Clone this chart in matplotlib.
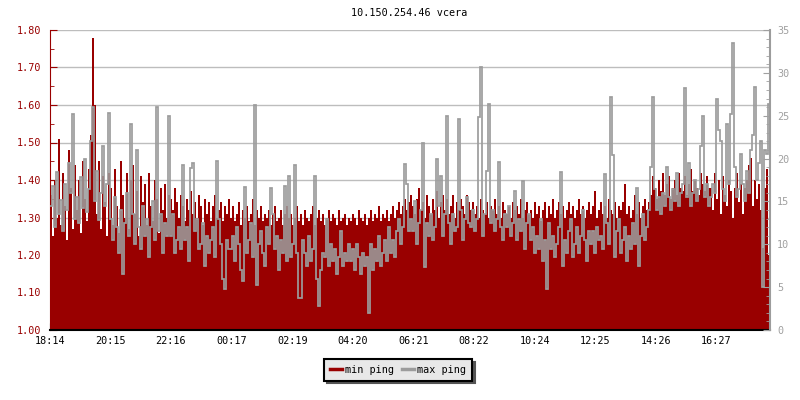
import numpy as np
import matplotlib
matplotlib.use("Agg")
import matplotlib.pyplot as plt
from matplotlib.ticker import MultipleLocator, FormatStrFormatter

# sample interval (minutes) and x ticks
STEP_MIN = 4
tick_minutes = [0, 121, 242, 363, 485, 606, 727, 848, 970, 1091, 1212, 1333]
tick_labels = ["18:14", "20:15", "22:16", "00:17", "02:19", "04:20",
               "06:21", "08:22", "10:24", "12:25", "14:26", "16:27"]

# min ping (ms, left axis) - one row per ~2 hours
min_ping = [
    1.36, 1.25, 1.40, 1.30, 1.51, 1.28, 1.42, 1.33, 1.24, 1.48, 1.38, 1.27, 1.44, 1.32, 1.40,
    1.26, 1.45, 1.35, 1.29, 1.43, 1.52, 1.78, 1.60, 1.31, 1.45, 1.27, 1.41, 1.34, 1.25, 1.42,
    1.38, 1.28, 1.43, 1.33, 1.26, 1.45, 1.36, 1.30, 1.42, 1.27, 1.40, 1.44, 1.31, 1.37, 1.25,
    1.41, 1.34, 1.39, 1.28, 1.42, 1.33, 1.29, 1.40, 1.35, 1.26, 1.38, 1.32, 1.39, 1.30, 1.36,
    1.35, 1.32, 1.38, 1.34, 1.30, 1.36, 1.33, 1.29, 1.35, 1.32, 1.37, 1.31, 1.34, 1.30, 1.36,
    1.33, 1.28, 1.35, 1.31, 1.34, 1.29, 1.33, 1.36, 1.30, 1.32, 1.34, 1.29, 1.33, 1.31, 1.35,
    1.30, 1.33, 1.29, 1.31, 1.34, 1.28, 1.32, 1.30, 1.33, 1.29, 1.31, 1.35, 1.28, 1.32, 1.30,
    1.33, 1.29, 1.31, 1.30, 1.32, 1.28, 1.31, 1.33, 1.29, 1.30, 1.32, 1.28, 1.31, 1.33, 1.30,
    1.31, 1.28, 1.30, 1.33, 1.29, 1.31, 1.28, 1.32, 1.30, 1.29, 1.31, 1.33, 1.28, 1.30, 1.32,
    1.29, 1.31, 1.28, 1.30, 1.32, 1.29, 1.31, 1.30, 1.28, 1.32, 1.29, 1.30, 1.31, 1.28, 1.30,
    1.29, 1.31, 1.30, 1.28, 1.32, 1.30, 1.29, 1.31, 1.28, 1.30, 1.32, 1.29, 1.31, 1.30, 1.33,
    1.29, 1.31, 1.30, 1.32, 1.29, 1.31, 1.33, 1.30, 1.32, 1.34, 1.31, 1.33, 1.35, 1.32, 1.34,
    1.36, 1.33, 1.31, 1.35, 1.38, 1.32, 1.34, 1.30, 1.36, 1.33, 1.31, 1.35, 1.32, 1.37, 1.30,
    1.34, 1.36, 1.32, 1.35, 1.31, 1.33, 1.36, 1.30, 1.34, 1.32, 1.35, 1.33, 1.31, 1.36, 1.34,
    1.32, 1.34, 1.31, 1.33, 1.30, 1.35, 1.32, 1.31, 1.34, 1.30, 1.33, 1.32, 1.35, 1.31, 1.33,
    1.30, 1.34, 1.32, 1.31, 1.33, 1.30, 1.34, 1.32, 1.33, 1.31, 1.35, 1.30, 1.32, 1.34, 1.31,
    1.32, 1.30, 1.34, 1.31, 1.33, 1.29, 1.32, 1.34, 1.30, 1.33, 1.31, 1.35, 1.30, 1.32, 1.34,
    1.31, 1.33, 1.30, 1.32, 1.34, 1.31, 1.33, 1.30, 1.32, 1.35, 1.31, 1.33, 1.30, 1.32, 1.34,
    1.31, 1.33, 1.37, 1.30, 1.32, 1.34, 1.31, 1.33, 1.30, 1.35, 1.32, 1.31, 1.34, 1.30, 1.33,
    1.32, 1.34, 1.39, 1.31, 1.33, 1.30, 1.32, 1.36, 1.31, 1.34, 1.30, 1.33, 1.35, 1.32, 1.34,
    1.36, 1.41, 1.38, 1.35, 1.40, 1.37, 1.42, 1.36, 1.39, 1.41, 1.35, 1.38, 1.40, 1.36, 1.42,
    1.38, 1.37, 1.41, 1.36, 1.39, 1.43, 1.37, 1.40, 1.38, 1.36, 1.42, 1.39, 1.37, 1.41, 1.38,
    1.38, 1.32, 1.42, 1.35, 1.40, 1.31, 1.41, 1.36, 1.33, 1.40, 1.37, 1.30, 1.38, 1.42, 1.34,
    1.39, 1.31, 1.38, 1.40, 1.44, 1.46, 1.33, 1.40, 1.35, 1.39, 1.32, 1.22, 1.38, 1.43, 1.20,
]

# max ping (ms, right axis)
max_ping = [
    14.5, 16.8, 12.0, 18.4, 13.5, 15.2, 11.5, 17.0, 14.0, 19.5, 16.0, 25.2, 13.0, 15.5, 12.5,
    17.8, 14.2, 20.0, 13.8, 16.5, 22.0, 26.0, 15.0, 18.5, 12.8, 16.0, 21.5, 14.5, 17.0, 25.3,
    13.0, 10.5, 15.5, 12.0, 9.0, 14.0, 6.5, 12.5, 16.0, 11.0, 24.0, 13.5, 10.0, 21.0, 12.0,
    9.5, 14.5, 11.0, 13.0, 8.5, 12.0, 15.0, 10.5, 26.0, 11.5, 13.5, 9.0, 12.5, 11.0, 25.0,
    11.0, 13.5, 9.0, 10.5, 12.0, 9.5, 19.2, 10.5, 12.0, 8.0, 18.9, 19.5, 11.5, 13.0, 9.5,
    10.0, 12.5, 7.5, 11.0, 9.0, 10.5, 12.0, 8.5, 19.7, 13.0, 10.0, 6.0, 4.8, 10.5, 9.5,
    9.5, 11.0, 8.0, 12.0, 10.0, 7.0, 5.7, 16.7, 9.0, 10.5, 12.5, 8.5, 26.2, 5.2, 10.0,
    11.5, 9.0, 7.5, 12.0, 10.0, 16.6, 13.5, 9.5, 11.0, 7.0, 10.5, 9.0, 16.8, 8.0, 18.0,
    8.5, 10.0, 19.2, 9.0, 3.7, 3.7, 10.5, 9.0, 7.5, 11.0, 8.0, 9.5, 18.0, 6.0, 2.8,
    7.0, 9.0, 8.5, 13.0, 7.5, 10.0, 8.0, 9.5, 6.5, 8.5, 11.5, 7.5, 9.0, 8.0, 10.0,
    8.0, 9.5, 7.0, 10.0, 8.5, 6.5, 9.0, 7.5, 8.5, 2.0, 10.0, 7.0, 9.5, 8.0, 11.0,
    7.5, 9.0, 10.5, 8.0, 12.0, 9.0, 10.5, 8.5, 11.5, 13.0, 10.0, 12.0, 19.4, 17.0, 11.5,
    13.0, 11.5, 15.0, 10.0, 12.5, 14.0, 21.8, 7.4, 12.5, 11.0, 13.5, 10.5, 12.0, 20.0, 14.5,
    18.0, 11.0, 13.5, 25.0, 12.5, 10.0, 13.5, 11.5, 12.0, 24.6, 14.0, 10.5, 13.0, 15.5, 12.5,
    12.0, 14.0, 11.5, 13.0, 24.8, 30.7, 11.0, 13.5, 18.5, 26.4, 12.5, 14.0, 11.5, 13.0, 19.6,
    12.0, 10.5, 13.5, 12.0, 14.5, 11.0, 12.5, 16.2, 10.5, 13.0, 11.5, 17.4, 9.5, 12.5, 13.5,
    10.5, 12.0, 9.0, 11.0, 9.5, 13.0, 8.0, 10.5, 4.8, 12.5, 9.5, 11.0, 8.5, 10.0, 12.0,
    18.4, 7.5, 10.5, 9.0, 11.5, 13.0, 8.5, 10.0, 12.0, 9.0, 11.0, 14.0, 10.5, 8.0, 11.5,
    10.0, 11.5, 9.0, 12.0, 10.5, 11.0, 9.5, 18.2, 12.5, 10.0, 27.2, 20.4, 8.5, 11.5, 13.0,
    9.0, 10.5, 12.0, 8.0, 11.0, 9.5, 12.5, 10.0, 16.6, 7.5, 11.0, 13.5, 10.5, 12.0, 14.0,
    19.0, 27.2, 16.5, 14.0, 15.5, 13.5, 16.0, 14.5, 19.0, 15.5, 14.0, 16.5, 15.0, 18.3, 14.5,
    16.0, 17.0, 28.2, 15.5, 19.5, 14.5, 16.0, 17.5, 15.0, 16.5, 21.5, 25.0, 15.5, 17.0, 14.5,
    15.5, 17.0, 16.0, 27.0, 23.3, 22.0, 16.5, 15.0, 24.0, 17.0, 25.2, 33.5, 19.0, 15.5, 16.5,
    20.5, 17.0, 15.0, 18.5, 16.0, 21.0, 22.8, 28.4, 17.5, 19.5, 22.0, 5.0, 21.0, 20.5, 26.4,
]

RED = "#990000"
GREY = "#9c9c9c"
FONT = "DejaVu Sans Mono"
FS = 7.3

plt.rcParams['font.family'] = FONT
plt.rcParams['font.size'] = FS

edges = np.arange(len(min_ping) + 1) * STEP_MIN

fig = plt.figure(figsize=(8, 4), dpi=100)
ax = fig.add_axes([50/800, 70/400, 720/800, 300/400])

ax.stairs(min_ping, edges, baseline=1.0, fill=True, color=RED, lw=0)
ax.set_xlim(0, 1440)
ax.set_ylim(1.0, 1.8)
ax.yaxis.set_major_locator(MultipleLocator(0.1))
ax.yaxis.set_minor_locator(MultipleLocator(0.05))
ax.yaxis.set_major_formatter(FormatStrFormatter('%.2f'))
ax.set_xticks(tick_minutes)
ax.set_xticklabels(tick_labels)
ax.grid(axis='y', color='#bdbdbd', lw=1)
ax.set_axisbelow(True)

ax.tick_params(axis='y', which='both', direction='in', colors=RED, pad=6)
ax.tick_params(axis='y', which='major', length=5)
ax.tick_params(axis='y', which='minor', length=3)
ax.tick_params(axis='x', direction='in', length=5, color='black', pad=4)
for s in ['top', 'right']:
    ax.spines[s].set_visible(False)
ax.spines['left'].set_color(RED)
ax.spines['bottom'].set_color('black')
ax.spines['bottom'].set_linewidth(1.5)

ax2 = ax.twinx()
ax2.stairs(max_ping, edges, baseline=None, color=GREY, lw=1.25)
ax2.set_ylim(0, 35)
ax2.yaxis.set_major_locator(MultipleLocator(5))
ax2.yaxis.set_minor_locator(MultipleLocator(1))
ax2.tick_params(axis='y', which='both', direction='in', colors='#a0a0a0', pad=5)
ax2.tick_params(axis='y', which='major', length=5)
ax2.tick_params(axis='y', which='minor', length=3)
for s in ['top', 'left', 'bottom']:
    ax2.spines[s].set_visible(False)
ax2.spines['right'].set_color(GREY)
ax2.spines['right'].set_linewidth(1.5)

fig.text(0.512, 1 - 13/400, "10.150.254.46 vcera", ha='center', va='center')

h1, = ax.plot([], [], color=RED, lw=2.5)
h2, = ax.plot([], [], color=GREY, lw=2.5)
leg = fig.legend([h1, h2], ["min ping", "max ping"], loc='center',
                 bbox_to_anchor=(0.4975, 1 - 370/400), ncol=2,
                 frameon=True, fancybox=False, framealpha=1,
                 facecolor='#e8e8e8', edgecolor='black',
                 handlelength=1.2, handletextpad=0.35, columnspacing=0.7,
                 borderpad=0.55, borderaxespad=0,
                 shadow={'color': '#555555', 'alpha': 1})
leg.get_frame().set_linewidth(1.5)

fig.savefig("out.png", dpi=100)
